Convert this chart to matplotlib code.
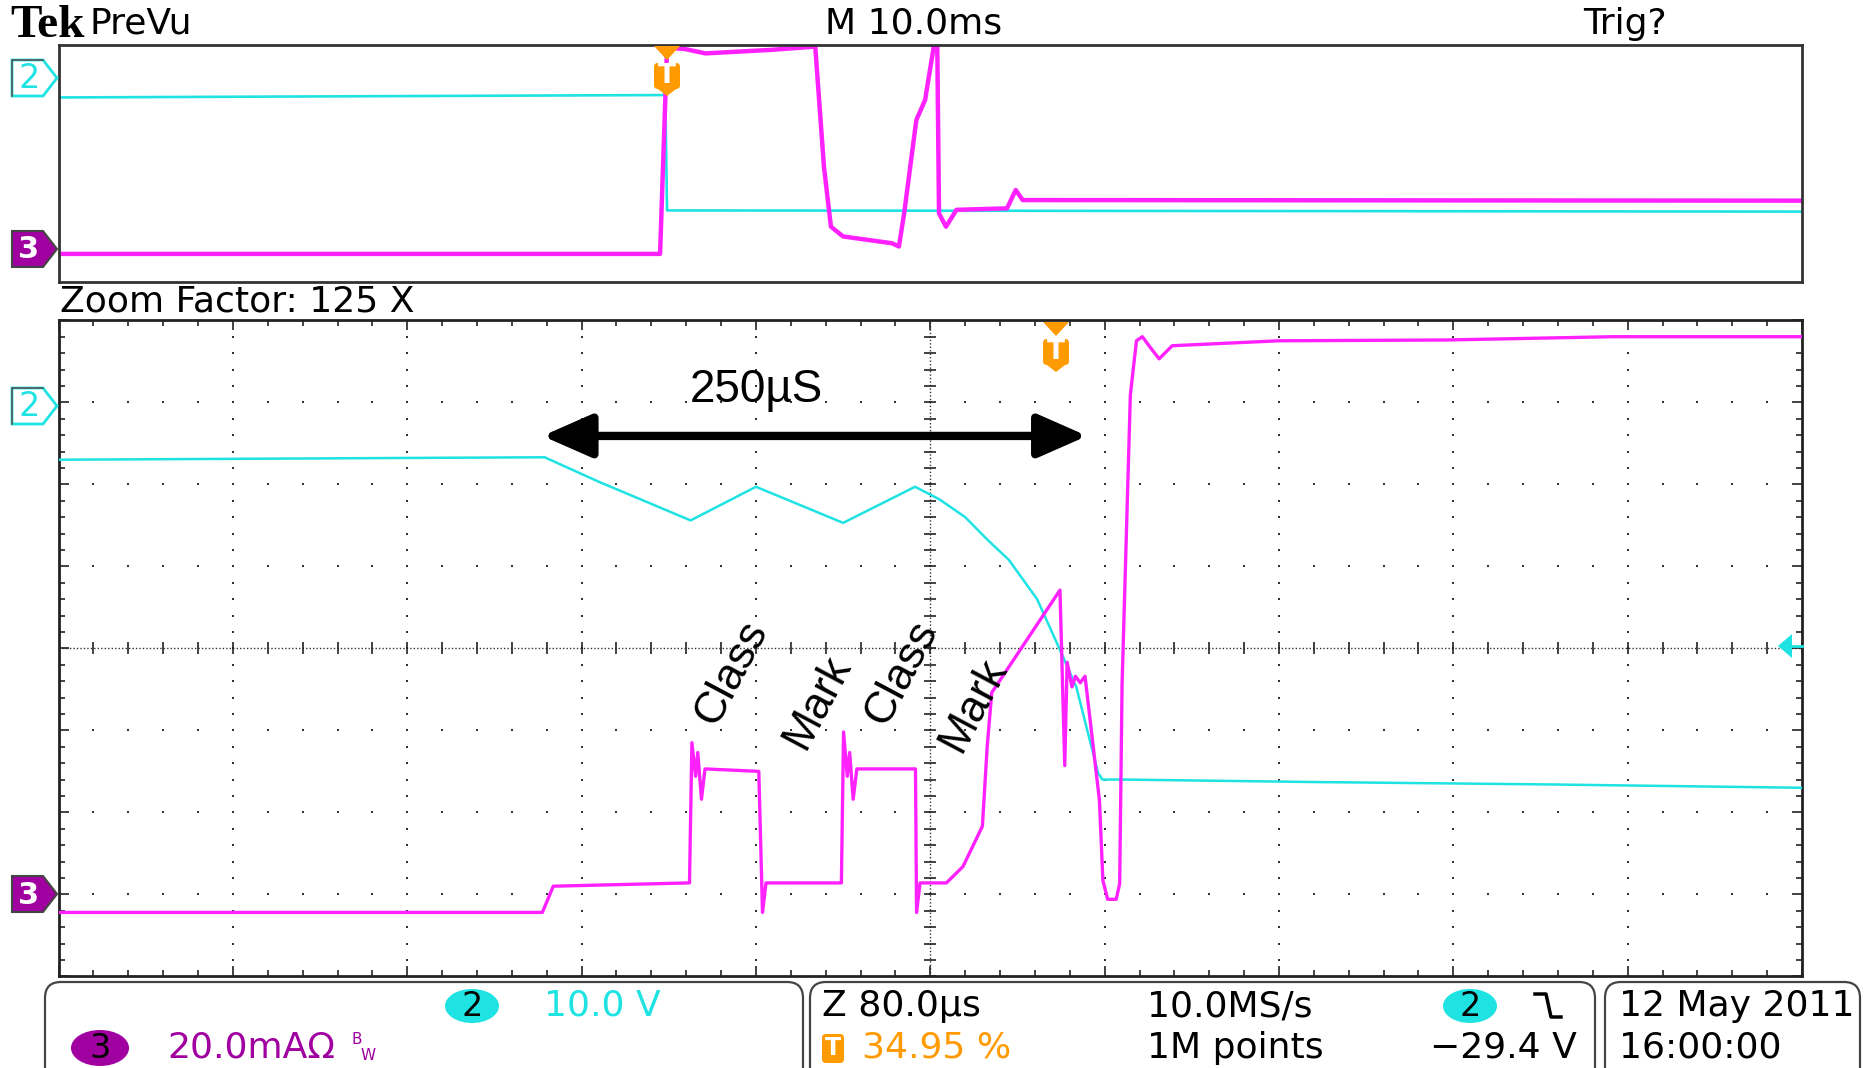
import numpy as np
import matplotlib.pyplot as plt
from matplotlib.patches import Polygon, FancyBboxPatch, Ellipse

# zoom window: time in microseconds (80 us/div), level in screen divisions
ch2_t = [0, 223, 248, 290, 320, 360, 393, 404, 416, 426, 436, 449, 458, 467,
         477, 479, 489, 576, 686, 800]
ch2_v = [2.30, 2.33, 2.03, 1.56, 1.97, 1.53, 1.97, 1.82, 1.60, 1.33, 1.08,
         0.60, 0.07, -0.47, -1.52, -1.60, -1.60, -1.63, -1.66, -1.70]

ch3_t = [0, 222, 227, 289.5, 290.6, 292.3, 293.3, 295.0, 296.6, 321.3, 323.0,
         324.6, 359.2, 360.2, 361.9, 363.0, 364.6, 366.3, 393.2, 393.7, 395.3,
         407.4, 415.0, 423.9, 426.1, 428.2, 459.5, 461.7, 462.8, 465.0, 466.6,
         468.8, 471.0, 477.6, 479.2, 481.4, 485.3, 486.9, 488.0, 491.8, 494.6,
         497.3, 501.2, 505.0, 511.0, 559.8, 636.6, 713.4, 800]
ch3_v = [-3.22, -3.22, -2.90, -2.86, -1.15, -1.56, -1.27, -1.84, -1.47, -1.50,
         -3.22, -2.86, -2.86, -1.02, -1.56, -1.27, -1.84, -1.47, -1.47, -3.22,
         -2.86, -2.86, -2.66, -2.17, -1.20, -0.54, 0.71, -1.43, -0.17, -0.47,
         -0.34, -0.42, -0.34, -1.85, -2.83, -3.06, -3.06, -2.87, -0.44, 3.09,
         3.75, 3.80, 3.66, 3.53, 3.69, 3.75, 3.76, 3.80, 3.80]

# PreVu strip: time in milliseconds (10 ms/div)
pre2_t = [0, 34.1, 34.8, 34.9, 35.4, 100]
pre2_v = [2.24, 2.32, 2.32, -1.58, -1.58, -1.62]

pre3_t = [0, 34.5, 34.9, 35.9, 37.1, 40.9, 43.4, 43.9, 44.3, 45.0, 47.8, 48.2,
          48.5, 49.2, 49.7, 50.2, 50.4, 50.5, 50.9, 51.5, 54.4, 54.9, 55.3,
          56.2, 100]
pre3_v = [-3.05, -3.05, 3.92, 3.88, 3.73, 3.85, 3.96, -0.10, -2.13, -2.46,
          -2.69, -2.80, -1.68, 1.48, 2.15, 3.96, 4.0, -1.68, -2.13, -1.56,
          -1.51, -0.89, -1.23, -1.23, -1.25]

notes = ["Class", "Mark", "Class", "Mark"]
note_t = [309, 348, 387, 420]
note_v = [-0.29, -0.66, -0.29, -0.69]

span_t = [222, 472]
span_v = 2.59
span_label = "250µS"

CYAN = '#1fe3e3'
MAGENTA = '#ff22ff'
PURPLE = '#a000a0'
ORANGE = '#ff9a00'
W, H = 1874, 1068

fig = plt.figure(figsize=(W / 100, H / 100), dpi=100)
fig.patch.set_facecolor('white')


def frame(ax, color, lw):
    for s in ax.spines.values():
        s.set_color(color)
        s.set_linewidth(lw)


# ---- PreVu strip
pv = fig.add_axes([58.6 / W, 1 - 282 / H, 1743.4 / W, (282 - 45.4) / H])
pv.plot(pre2_t, pre2_v, color=CYAN, lw=1.9)
pv.plot(pre3_t, pre3_v, color=MAGENTA, lw=3.2)
pv.set_xlim(0, 100)
pv.set_ylim(-4, 4)
pv.set_xticks([])
pv.set_yticks([])
frame(pv, '#333', 2)

# ---- zoomed window
ax = fig.add_axes([58.6 / W, 1 - 976.4 / H, 1743.4 / W, (976.4 - 320.3) / H])
ax.set_xlim(0, 800)
ax.set_ylim(-4, 4)
frame(ax, '#222', 2)
ax.set_xticks(np.arange(0, 801, 80))
ax.set_xticks(np.arange(0, 801, 16), minor=True)
ax.set_yticks(np.arange(-4, 5, 1))
ax.set_yticks(np.arange(-4, 4.01, 0.2), minor=True)
ax.tick_params(which='both', direction='in', top=True, right=True,
               labelbottom=False, labelleft=False, color='#222', width=1.2)
ax.tick_params(which='major', length=7)
ax.tick_params(which='minor', length=4)

xs = np.arange(0, 801, 16)
ys = np.arange(-4, 4.01, 0.2)
for gx in range(80, 800, 80):
    if gx != 400:
        ax.scatter(np.full(len(ys), gx), ys, s=3, c='#333', marker='s', lw=0, zorder=1)
for gy in range(-3, 4):
    if gy != 0:
        ax.scatter(xs, np.full(len(xs), gy), s=3, c='#333', marker='s', lw=0, zorder=1)
ax.axhline(0, color='#333', lw=1.0, ls=(0, (1, 1.5)), zorder=1)
ax.axvline(400, color='#333', lw=1.0, ls=(0, (1, 1.5)), zorder=1)
ax.plot(xs, np.zeros(len(xs)), ls='none', marker='|', ms=8, mew=1.2, color='#222', zorder=1)
ax.plot(np.full(len(ys), 400), ys, ls='none', marker='_', ms=8, mew=1.2, color='#222', zorder=1)

ax.plot(ch2_t, ch2_v, color=CYAN, lw=1.8, zorder=3)
ax.plot(ch3_t, ch3_v, color=MAGENTA, lw=2.4, zorder=3)

ax.annotate('', xy=(span_t[1], span_v), xytext=(span_t[0], span_v),
            arrowprops=dict(arrowstyle='<|-|>,head_length=0.75,head_width=0.33',
                            color='black', lw=6, mutation_scale=40,
                            shrinkA=0, shrinkB=0), zorder=5)
ax.text(np.mean(span_t) - 27, 3.15, span_label, fontsize=33, family='Liberation Sans',
        ha='center', va='center', zorder=5)
for label, t, v in zip(notes, note_t, note_v):
    ax.text(t, v, label, fontsize=32, family='Liberation Sans', rotation=62,
            rotation_mode='anchor', ha='center', va='center', zorder=5)

# ---- screen furniture, in pixel coordinates
ov = fig.add_axes([0, 0, 1, 1])
ov.set_xlim(0, W)
ov.set_ylim(H, 0)
ov.axis('off')
ov.patch.set_alpha(0)

scope = dict(family='DejaVu Sans', fontsize=26, va='center')


def channel_tag(y, label, filled):
    pts = [(12, y - 18), (43, y - 18), (57, y), (43, y + 18), (12, y + 18)]
    if filled:
        ov.add_patch(Polygon(pts, closed=True, fc=PURPLE, ec='#444', lw=1.5))
        ov.text(29, y + 1, label, color='white', ha='center', va='center',
                fontsize=22, fontweight='bold')
    else:
        ov.add_patch(Polygon(pts, closed=True, fc='white', ec=CYAN, lw=2))
        ov.plot([12, 12, 43], [y + 18, y - 18, y - 18], color='#555', lw=1.2)
        ov.text(29, y + 1, label, color=CYAN, ha='center', va='center', fontsize=24)


def trig_tag(x, y):
    ov.add_patch(Polygon([(x - 13, y), (x + 13, y), (x, y + 14)], fc=ORANGE, ec='none'))
    ov.add_patch(FancyBboxPatch((x - 13, y + 17), 26, 26,
                                boxstyle='round,pad=0,rounding_size=4', fc=ORANGE, ec='none'))
    ov.add_patch(Polygon([(x - 13, y + 40), (x + 13, y + 40), (x, y + 50)], fc=ORANGE, ec='none'))
    ov.text(x, y + 30, 'T', color='white', fontsize=19, fontweight='bold',
            ha='center', va='center')


channel_tag(78, '2', False)
channel_tag(249, '3', True)
channel_tag(406, '2', False)
channel_tag(894, '3', True)
trig_tag(667, 46)
trig_tag(1056, 322)

# trigger level pointer
ov.add_patch(Polygon([(1778, 646), (1792, 634), (1792, 658)], fc=CYAN, ec='none'))
ov.plot([1790, 1802], [646, 646], color=CYAN, lw=2)

# header
ov.text(10, 26, 'Tek', family='Liberation Serif', fontweight='bold', fontsize=34, va='center')
ov.text(90, 24, 'PreVu', **scope)
ov.text(825, 24, 'M 10.0ms', **scope)
ov.text(1583, 24, 'Trig?', **scope)
ov.text(60, 301, 'Zoom Factor: 125 X', **scope)

# status boxes
for x0, x1 in [(45, 803), (810, 1595), (1605, 1860)]:
    ov.add_patch(FancyBboxPatch((x0, 982), x1 - x0, 110,
                                boxstyle='round,pad=0,rounding_size=16',
                                fc='none', ec='#444', lw=1.6))

ov.add_patch(Ellipse((472, 1006), 54, 34, fc=CYAN, ec='none'))
ov.text(472, 1007, '2', ha='center', fontsize=24, family='DejaVu Sans', va='center')
ov.text(544, 1006, '10.0 V', color=CYAN, **scope)

ov.add_patch(Ellipse((100, 1048), 58, 36, fc=PURPLE, ec='none'))
ov.text(100, 1049, '3', ha='center', fontsize=24, family='DejaVu Sans', va='center')
ov.text(167, 1048, '20.0mAΩ', color=PURPLE, **scope)
ov.text(352, 1039, 'B', color=PURPLE, fontsize=11, family='DejaVu Sans', va='center')
ov.text(361, 1055, 'W', color=PURPLE, fontsize=11, family='DejaVu Sans', va='center')

ov.text(822, 1006, 'Z 80.0µs', **scope)
ov.add_patch(FancyBboxPatch((822, 1034), 22, 29, boxstyle='round,pad=0,rounding_size=4',
                            fc=ORANGE, ec='none'))
ov.text(833, 1048, 'T', color='white', fontsize=17, fontweight='bold', ha='center', va='center')
ov.text(862, 1048, '34.95 %', color=ORANGE, **scope)

ov.text(1147, 1006, '10.0MS/s', **scope)
ov.text(1147, 1048, '1M points', **scope)

ov.add_patch(Ellipse((1470, 1006), 54, 34, fc=CYAN, ec='none'))
ov.text(1470, 1007, '2', ha='center', fontsize=24, family='DejaVu Sans', va='center')
ov.plot([1535, 1546, 1551, 1561], [994, 994, 1017, 1017], color='black', lw=2.5)
ov.text(1577, 1048, '−29.4 V', ha='right', family='DejaVu Sans', fontsize=26, va='center')

ov.text(1619, 1006, '12 May 2011', **scope)
ov.text(1619, 1048, '16:00:00', **scope)

fig.savefig('out.png', dpi=100, facecolor='white')
